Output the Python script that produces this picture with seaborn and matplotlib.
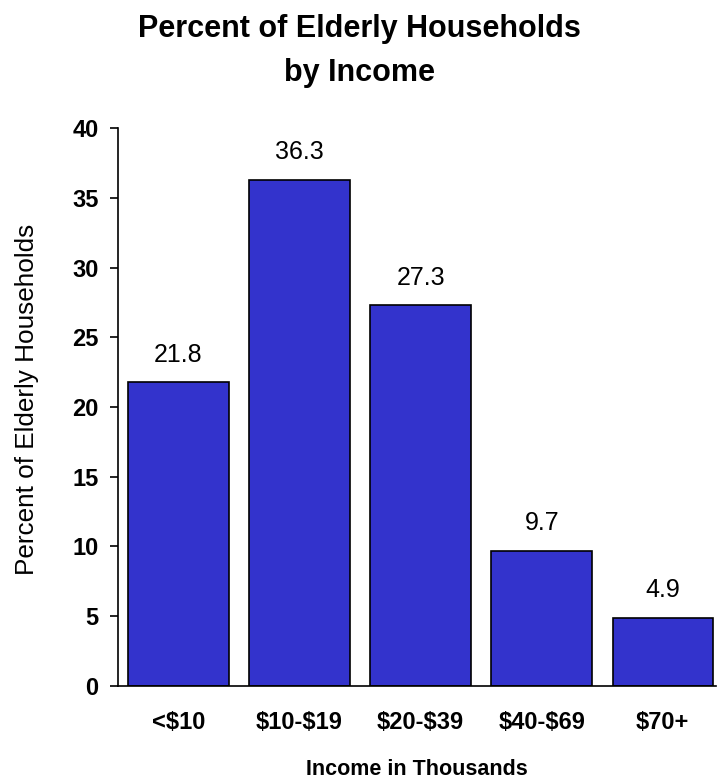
import pandas as pd
import matplotlib
matplotlib.use("Agg")
import matplotlib.pyplot as plt
import seaborn as sns

# Data
income_groups = ["<$10", "$10-$19", "$20-$39", "$40-$69", "$70+"]
pct_households = [21.8, 36.3, 27.3, 9.7, 4.9]
y_ticks = [0, 5, 10, 15, 20, 25, 30, 35, 40]


def main():
    df = pd.DataFrame({"income": income_groups, "pct": pct_households})

    sns.set_theme(style="white")
    plt.rcParams["font.family"] = ["Liberation Sans", "DejaVu Sans"]
    plt.rcParams["text.parse_math"] = False  # keep the "$" signs literal
    plt.rcParams["text.color"] = "black"

    fig = plt.figure(figsize=(7.18, 7.83), dpi=100)
    ax = fig.add_axes([0.1643, 0.1239, 0.833, 0.7126])

    sns.barplot(data=df, x="income", y="pct", color="#3333CC", saturation=1,
                edgecolor="black", linewidth=1.2, width=0.83, ax=ax)

    # value labels above the bars
    for i, v in enumerate(pct_households):
        ax.text(i, v + 1.45, f"{v:.1f}", ha="center", va="baseline",
                fontsize=18, color="black")

    ax.set_ylim(0, 40)
    ax.set_xlim(-0.5, 4.44)
    ax.set_yticks(y_ticks)
    ax.set_yticklabels([str(t) for t in y_ticks], fontsize=17, fontweight="bold")
    ax.set_xticks(range(len(income_groups)))
    ax.set_xticklabels(income_groups, fontsize=17, fontweight="bold")
    ax.tick_params(axis="y", direction="out", length=6, width=1.2, color="black",
                   pad=8, left=True, labelcolor="black")
    ax.tick_params(axis="x", length=0, pad=18, labelcolor="black")

    for side in ["top", "right"]:
        ax.spines[side].set_visible(False)
    for side in ["left", "bottom"]:
        ax.spines[side].set_color("black")
        ax.spines[side].set_linewidth(1.2)

    ax.set_xlabel("Income in Thousands", fontsize=15.5, fontweight="bold",
                  labelpad=18, color="black")
    ax.set_ylabel("Percent of Elderly Households", fontsize=18.8, color="black")
    ax.yaxis.set_label_coords(-0.132, 0.513)

    fig.suptitle("Percent of Elderly Households\nby Income", fontsize=22,
                 fontweight="bold", x=0.5, y=0.9816, va="top", linespacing=1.6,
                 color="black")

    fig.savefig("out.png", dpi=100, facecolor="white")
    print("Generated: out.png")


if __name__ == "__main__":
    main()
